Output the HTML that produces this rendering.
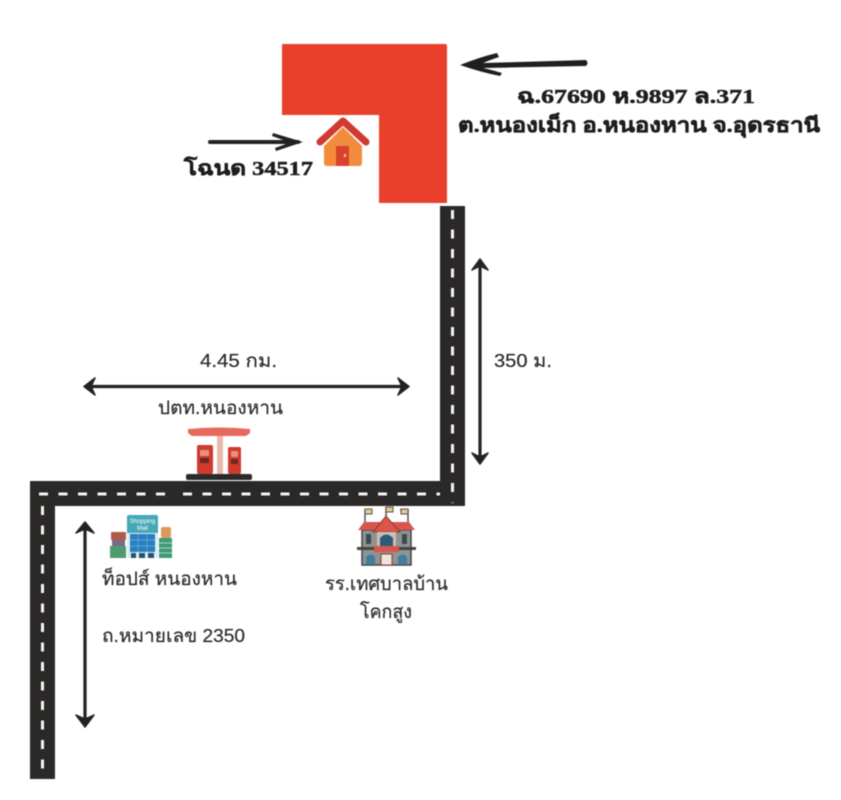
<!DOCTYPE html>
<html><head><meta charset="utf-8"><style>
html,body{margin:0;padding:0;background:#fff}
svg{display:block;filter:blur(.45px)}
text{font-family:"Liberation Sans","DejaVu Sans","Noto Sans CJK SC",sans-serif;fill:#2a2a2a;font-size:18.500px;stroke:#2a2a2a;stroke-width:.2}
.b{font-family:"Liberation Serif","DejaVu Serif","Noto Serif CJK SC",serif;font-weight:bold;font-size:20px;fill:#1d1d1d;stroke:#1d1d1d;stroke-width:.5}
.r{stroke:#2b2928;stroke-width:25;fill:none}
.d{stroke:#f4f4f4;stroke-width:3;fill:none}
.a{stroke:#222;stroke-width:3.200;fill:none;stroke-linecap:round;stroke-linejoin:round}
.h{fill:#222;stroke:#222;stroke-width:1.500;stroke-linejoin:round}
</style></head><body>
<svg width="841" height="800" viewBox="0 0 841 800" xmlns="http://www.w3.org/2000/svg">
<rect width="841" height="800" fill="#fff"/>
<path d="M282 44H445Q447 44 447 46V203H379V115H282Z" fill="#e8402a"/>

<!-- roads -->
<path class="r" d="M452.500 206V493.500H42.500V779"/>
<path class="d" d="M39 494H165" stroke-dasharray="9 10.500"/>
<path class="d" d="M183 494H440" stroke-dasharray="9 10.500"/>
<path class="d" d="M452.500 210V503" stroke-dasharray="9 10.500"/>
<path class="d" d="M42.500 506V775" stroke-dasharray="9 10.500"/>

<!-- top arrow -->
<path d="M460 65Q480 57 497 53L499 57Q490 60 483 63L586 60Q589 63 586 66L483 68Q492 70 502 73L500 76Q480 72 460 65Z" fill="#1f1f1f"/>
<!-- house arrow -->
<path d="M210 142H298" stroke="#222" stroke-width="4" stroke-linecap="round"/>
<path d="M303 142L273 133L272 136L286 141H272V144H286L275 148L276 151Z" fill="#222"/>
<!-- 350 arrow -->
<path class="a" d="M480 262V460"/>
<path class="h" d="M480 259L488 270L480 266L472 270Z"/>
<path class="h" d="M480 464L488 453L480 457L472 453Z"/>
<!-- 4.45 arrow -->
<path class="a" d="M88 386.500H405"/>
<path class="h" d="M84 386.500L95 378L91 386.500L95 395Z"/>
<path class="h" d="M409 386.500L398 378L402 386.500L398 395Z"/>
<!-- road arrow -->
<path class="a" d="M85 525V724"/>
<path class="h" d="M85 522L94 533L85 529L76 533Z"/>
<path class="h" d="M85 727L94 715L85 719L76 715Z"/>

<!-- house -->
<path d="M324 146L343 127L362 146V163Q362 166 359 166H327Q324 166 324 163Z" fill="#f28c3c"/>
<path d="M320 142L343 121L366 142" fill="none" stroke="#d03a30" stroke-width="7" stroke-linecap="round" stroke-linejoin="round"/>
<rect x="336" y="146" width="13" height="20" fill="#d9432c"/>
<rect x="344" y="154" width="2" height="3" fill="#f7c9a0"/>

<!-- gas station -->
<path d="M188 429Q219 426 250 429V433L246 436H192L188 433Z" fill="#e8695c"/>
<rect x="217" y="436" width="6" height="38" fill="#e9b8ae"/>
<rect x="197" y="445" width="16" height="29" rx="2" fill="#cf3a2c"/>
<rect x="228" y="447" width="13" height="27" rx="2" fill="#cf3a2c"/>
<rect x="200" y="450" width="9" height="6" fill="#e89080"/>
<rect x="231" y="451" width="7" height="6" fill="#e89080"/>
<rect x="200" y="458" width="9" height="5" fill="#6a2a22"/>
<rect x="231" y="459" width="7" height="5" fill="#6a2a22"/>
<rect x="186" y="474" width="66" height="6" rx="2" fill="#2b2a2a"/>

<!-- mall -->
<rect x="127" y="515" width="31" height="20" rx="2" fill="#45a7b8"/>
<text x="142.500" y="523" text-anchor="middle" style="font-size:6px;fill:#fff;stroke:none">Shopping</text>
<text x="142.500" y="530" text-anchor="middle" style="font-size:6px;fill:#fff;stroke:none">Mall</text>
<rect x="127" y="533" width="31" height="25" fill="#d8eef2"/>
<rect x="130" y="534" width="25" height="18" fill="#2a7fc0"/>
<path d="M138 534V552M147 534V552M130 540H155M130 546H155" stroke="#6cb2dc" stroke-width=".7"/>
<path d="M131 553h5v5h-5zM139 553h6v5h-6zM148 553h6v5h-6z" fill="#27526e"/>
<rect x="111" y="532" width="15" height="8" rx="1" fill="#b25a4a"/>
<rect x="112" y="540" width="13" height="6" fill="#7a6a8a"/>
<rect x="110" y="546" width="16" height="12" fill="#4e9a6e"/>
<rect x="161" y="527" width="10" height="11" rx="2" fill="#d99a5a"/>
<rect x="159" y="538" width="13" height="20" fill="#3f9a78"/>
<path d="M159 543H172M159 548H172M159 553H172" stroke="#a8d8c0" stroke-width="1"/>

<!-- school -->
<path d="M365 523V510H372M386 516V508H393M408 523V510H400" fill="none" stroke="#555" stroke-width="1.500"/>
<path d="M365 509h7v5h-7zM386 507h7v5h-7zM401 509h7v5h-7z" fill="#e8c88a" stroke="#555"/>
<rect x="362" y="530" width="49" height="35" fill="#8f9392" stroke="#444" stroke-width="1.500"/>
<path d="M358 530L364 522H409L415 530Z" fill="#d9554d"/>
<path d="M373 532L386 516L400 532Z" fill="#d9554d" stroke="#8a3a33"/>
<rect x="377" y="532" width="19" height="15" fill="#cdbfb2"/>
<path d="M380 547V538Q386 531 393 538V547Z" fill="#2c5a78"/>
<rect x="357" y="547" width="59" height="3" fill="#444"/>
<rect x="374" y="546" width="25" height="6" fill="#d9554d"/>
<rect x="381" y="554" width="11" height="11" fill="#efe4dc" stroke="#8a3a33"/>
<path d="M366 564V557Q371 552 375 557V564ZM398 564V557Q403 552 407 557V564Z" fill="#3e7f9e"/>
<path d="M366 534h5v10h-5zM402 534h5v10h-5z" fill="#3a4a50"/>

<!-- labels -->
<text class="b" x="517" y="103" textLength="238" lengthAdjust="spacingAndGlyphs">ฉ.67690 ห.9897 ล.371</text>
<text class="b" x="458" y="132" textLength="362" lengthAdjust="spacingAndGlyphs">ต.หนองเม็ก อ.หนองหาน จ.อุดรธานี</text>
<text class="b" x="184" y="175" textLength="129" lengthAdjust="spacingAndGlyphs">โฉนด 34517</text>
<text x="200" y="367" textLength="77" lengthAdjust="spacingAndGlyphs">4.45 กม.</text>
<text x="158" y="414" textLength="125" lengthAdjust="spacingAndGlyphs">ปตท.หนองหาน</text>
<text x="494" y="367" textLength="58" lengthAdjust="spacingAndGlyphs">350 ม.</text>
<text x="102" y="585" textLength="135" lengthAdjust="spacingAndGlyphs">ท็อปส์ หนองหาน</text>
<text x="325" y="590" textLength="123" lengthAdjust="spacingAndGlyphs">รร.เทศบาลบ้าน</text>
<text x="360" y="618" textLength="52" lengthAdjust="spacingAndGlyphs">โคกสูง</text>
<text x="102" y="642" textLength="143" lengthAdjust="spacingAndGlyphs">ถ.หมายเลข 2350</text>
</svg>
</body></html>
